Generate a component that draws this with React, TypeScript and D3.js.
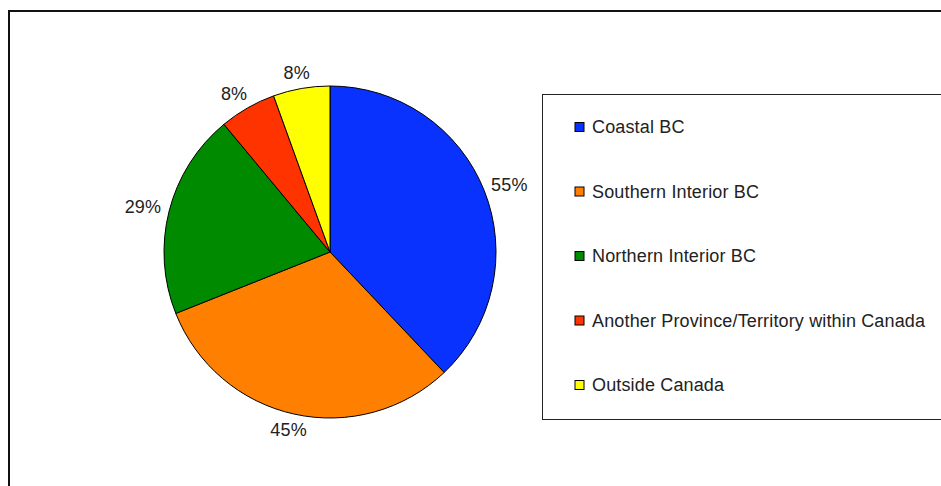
import React from 'react';
import * as d3 from 'd3';

const regions = ['Coastal BC', 'Southern Interior BC', 'Northern Interior BC', 'Another Province/Territory within Canada', 'Outside Canada'];
const shares = [55, 45, 29, 8, 8];
const colours = ['#0A32FF', '#FF8000', '#008A00', '#FF3300', '#FFFF00'];

const width = 941;
const height = 486;
const cx = 330, cy = 252, radius = 166;

export default function App() {
  const pie = d3.pie<number>().sort(null).value(d => d)(shares);
  const arc = d3.arc<d3.PieArcDatum<number>>().innerRadius(0).outerRadius(radius);

  // labels sit a bit further out sideways than up/down
  const labelPos = (d: d3.PieArcDatum<number>) => {
    const a = (d.startAngle + d.endAngle) / 2;
    return [Math.sin(a) * 193, -Math.cos(a) * 182];
  };

  // legend rows
  const legendY = d3.scalePoint<string>().domain(regions).range([127, 385]);

  return (
    <svg width={width} height={height} style={{position: 'absolute', left: 0, top: 0, background: '#fff'}}
      fontFamily="'Liberation Sans', Arial, sans-serif">
      <rect x={9} y={11} width={960} height={500} fill="#fff" stroke="#111" strokeWidth={2} />
      <g transform={`translate(${cx},${cy})`}>
        {pie.map((d, i) => (
          <path key={i} d={arc(d) || ''} fill={colours[i]} stroke="#000" strokeWidth={1} />
        ))}
        {pie.map((d, i) => {
          const [x, y] = labelPos(d);
          return (
            <text key={i} x={x} y={y} textAnchor="middle" dominantBaseline="central" fontSize={18} letterSpacing={0.2} fill="#222">
              {shares[i]}%
            </text>
          );
        })}
      </g>
      <rect x={542.5} y={94.5} width={420} height={325} fill="#fff" stroke="#222" strokeWidth={1} />
      {regions.map((r, i) => (
        <g key={r} transform={`translate(575,${legendY(r)})`}>
          <rect x={0} y={-4.5} width={9} height={9} fill={colours[i]} stroke="#000" strokeWidth={1} />
          <text x={17} y={0} dominantBaseline="central" fontSize={18} letterSpacing={0.15} fill="#222">{r}</text>
        </g>
      ))}
    </svg>
  );
}
